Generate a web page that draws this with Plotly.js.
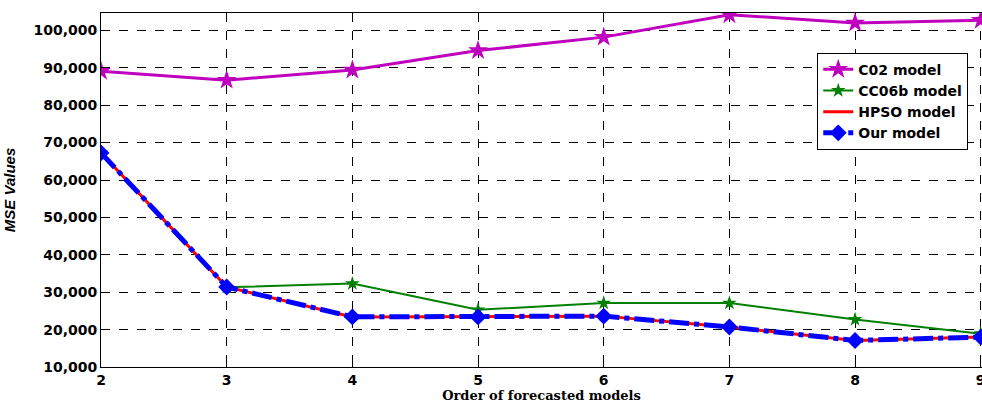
<!DOCTYPE html>
<html><head><meta charset="utf-8">
<script src="https://cdn.plot.ly/plotly-3.0.1.min.js"></script>
<style>html,body{margin:0;padding:0;background:#fff;overflow:hidden}</style>
</head><body><div id="chart" style="width:982px;height:403px"></div>
<script>
const orders = [2, 3, 4, 5, 6, 7, 8, 9];
const c02 = [89100, 86700, 89400, 94600, 98200, 104200, 102000, 102700];
const cc06b = [67250, 31300, 32300, 25300, 27100, 27100, 22700, 18900];
const hpso = [67250, 31400, 23400, 23400, 23600, 20700, 17100, 18000];
const ours = [67250, 31400, 23400, 23400, 23600, 20700, 17100, 18000];
const names = ['C02 model', 'CC06b model', 'HPSO model', 'Our model'];

const traces = [
  {x: orders, y: c02, name: names[0], mode: 'lines+markers',
   line: {color: '#BF00BF', width: 3}, marker: {symbol: 'star', size: 15, color: '#BF00BF'}},
  {x: orders, y: cc06b, name: names[1], mode: 'lines+markers',
   line: {color: '#008000', width: 2}, marker: {symbol: 'star', size: 11, color: '#008000'}},
  {x: orders, y: hpso, name: names[2], mode: 'lines',
   line: {color: '#FF0000', width: 3}},
  {x: orders, y: ours, name: names[3], mode: 'lines+markers',
   line: {color: '#0000FF', width: 5, dash: '20px,5px,5px,5px'}, marker: {symbol: 'diamond', size: 13, color: '#0000FF'}}
];

const layout = {
  width: 982, height: 403,
  margin: {l: 101, r: 0, t: 13, b: 36},
  paper_bgcolor: '#fff', plot_bgcolor: '#fff',
  showlegend: true,
  legend: {x: 0.813, y: 0.888, xanchor: 'left', yanchor: 'top',
    bordercolor: '#000', borderwidth: 1, bgcolor: '#fff',
    font: {family: 'DejaVu Sans, sans-serif', size: 14, color: '#000', weight: 'bold'},
    tracegroupgap: 0, itemwidth: 30},
  xaxis: {range: [2, 9.01], tickmode: 'array', tickvals: orders, ticktext: orders.map(String),
    ticklabeloverflow: 'allow',
    showgrid: true, gridcolor: '#000', griddash: 'dash', gridwidth: 1,
    showline: true, linecolor: '#000', linewidth: 1, mirror: true, zeroline: false,
    ticks: 'inside', ticklen: 4, tickcolor: '#000',
    tickfont: {family: 'DejaVu Sans, sans-serif', size: 14, color: '#000', weight: 'bold'},
    title: {text: 'Order of forecasted models', standoff: 2,
      font: {family: 'DejaVu Serif, serif', size: 13, color: '#000', weight: 'bold'}}},
  yaxis: {range: [10000, 104650], tickmode: 'linear', tick0: 10000, dtick: 10000, tickformat: ',d',
    showgrid: true, gridcolor: '#000', griddash: 'dash', gridwidth: 1,
    showline: true, linecolor: '#000', linewidth: 1, mirror: true, zeroline: false,
    ticks: 'inside', ticklen: 4, tickcolor: '#000',
    tickfont: {family: 'DejaVu Sans, sans-serif', size: 14, color: '#000', weight: 'bold'},
    title: {text: 'MSE Values', standoff: 14,
      font: {family: 'Liberation Sans, sans-serif', size: 15, color: '#000', style: 'italic', weight: 'bold'}}}
};
Plotly.newPlot('chart', traces, layout, {displayModeBar: false, staticPlot: true});
</script></body></html>
